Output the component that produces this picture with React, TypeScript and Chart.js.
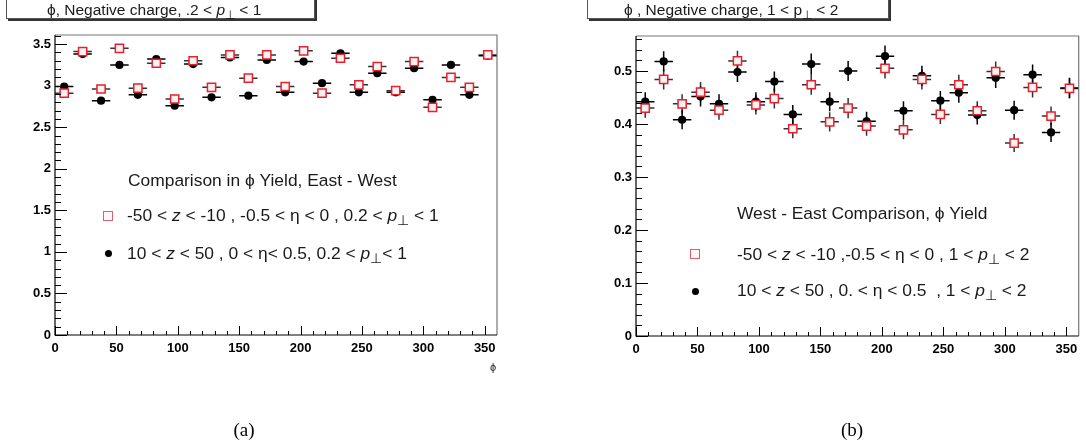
import React, { useEffect, useRef } from 'react';
import { Chart, registerables } from 'chart.js';
Chart.register(...registerables);

// phi bin centres (degrees) and half bin width
const phiBins = [7.5, 22.5, 37.5, 52.5, 67.5, 82.5, 97.5, 112.5, 127.5, 142.5, 157.5, 172.5,
  187.5, 202.5, 217.5, 232.5, 247.5, 262.5, 277.5, 292.5, 307.5, 322.5, 337.5, 352.5];
const phiHalf = [7.5, 7.5, 7.5, 7.5, 7.5, 7.5, 7.5, 7.5, 7.5, 7.5, 7.5, 7.5,
  7.5, 7.5, 7.5, 7.5, 7.5, 7.5, 7.5, 7.5, 7.5, 7.5, 7.5, 7.5];

// Panel (a): .2 < pT < 1
const eastA = [2.91, 3.41, 2.96, 3.45, 2.97, 3.27, 2.84, 3.30, 2.98, 3.37, 3.09, 3.37,
  2.99, 3.42, 2.91, 3.33, 3.01, 3.23, 2.94, 3.29, 2.74, 3.10, 2.98, 3.37];
const westA = [2.99, 3.38, 2.82, 3.25, 2.89, 3.32, 2.76, 3.26, 2.86, 3.34, 2.88, 3.31,
  2.92, 3.29, 3.03, 3.39, 2.92, 3.15, 2.92, 3.21, 2.83, 3.25, 2.89, 3.36];
const errEastA = [0.02, 0.02, 0.02, 0.02, 0.02, 0.02, 0.02, 0.02, 0.02, 0.02, 0.02, 0.02,
  0.02, 0.02, 0.02, 0.02, 0.02, 0.02, 0.02, 0.02, 0.02, 0.02, 0.02, 0.02];
const errWestA = [0.02, 0.02, 0.02, 0.02, 0.02, 0.02, 0.02, 0.02, 0.02, 0.02, 0.02, 0.02,
  0.02, 0.02, 0.02, 0.02, 0.02, 0.02, 0.02, 0.02, 0.02, 0.02, 0.02, 0.02];

// Panel (b): 1 < pT < 2
const eastB = [0.430, 0.484, 0.438, 0.460, 0.426, 0.519, 0.436, 0.448, 0.391, 0.474, 0.404, 0.430,
  0.396, 0.505, 0.389, 0.484, 0.418, 0.474, 0.425, 0.499, 0.364, 0.469, 0.415, 0.467];
const westB = [0.442, 0.518, 0.408, 0.452, 0.438, 0.498, 0.442, 0.480, 0.418, 0.513, 0.442, 0.500,
  0.405, 0.528, 0.425, 0.491, 0.444, 0.459, 0.417, 0.487, 0.426, 0.493, 0.384, 0.468];
const errEastB = [0.018, 0.019, 0.018, 0.019, 0.018, 0.019, 0.018, 0.019, 0.018, 0.019, 0.018, 0.019,
  0.018, 0.019, 0.018, 0.019, 0.018, 0.019, 0.018, 0.019, 0.017, 0.019, 0.018, 0.019];
const errWestB = [0.018, 0.019, 0.018, 0.019, 0.018, 0.019, 0.018, 0.019, 0.018, 0.020, 0.018, 0.019,
  0.018, 0.020, 0.018, 0.019, 0.018, 0.019, 0.018, 0.019, 0.018, 0.019, 0.018, 0.019];

// axis tick labels
const xTickLabels = [0, 50, 100, 150, 200, 250, 300, 350];
const yTickLabelsA = [0, 0.5, 1, 1.5, 2, 2.5, 3, 3.5];
const yTickLabelsB = [0, 0.1, 0.2, 0.3, 0.4, 0.5];

const FONT = '"Liberation Sans", Arial, Helvetica, sans-serif';

const rootStyle = {
  id: 'rootStyle',
  beforeDatasetsDraw(chart: any) {
    const { ctx } = chart;
    const x = chart.scales.x, y = chart.scales.y;
    ctx.save();
    chart.data.datasets.forEach((ds: any) => {
      ctx.strokeStyle = ds.errColor;
      ctx.lineWidth = 1.5;
      ds.data.forEach((p: any, j: number) => {
        const px = x.getPixelForValue(p.x), py = y.getPixelForValue(p.y);
        const x0 = x.getPixelForValue(p.x - ds.xErr[j]);
        const x1 = x.getPixelForValue(p.x + ds.xErr[j]);
        const y0 = y.getPixelForValue(p.y - ds.yErr[j]);
        const y1 = y.getPixelForValue(p.y + ds.yErr[j]);
        ctx.beginPath();
        ctx.moveTo(x0, py); ctx.lineTo(x1, py);
        ctx.moveTo(px, y0); ctx.lineTo(px, y1);
        ctx.stroke();
      });
    });
    ctx.restore();
  },
  afterDraw(chart: any, _args: any, opts: any) {
    const { ctx, chartArea: a } = chart;
    const x = chart.scales.x, y = chart.scales.y;
    ctx.save();
    ctx.strokeStyle = '#777';
    ctx.lineWidth = 1.2;
    ctx.beginPath();
    ctx.moveTo(a.left, a.top); ctx.lineTo(a.right, a.top); ctx.lineTo(a.right, a.bottom);
    ctx.stroke();
    ctx.strokeStyle = '#000';
    ctx.lineWidth = 1.2;
    ctx.beginPath();
    ctx.moveTo(a.left, a.top); ctx.lineTo(a.left, a.bottom); ctx.lineTo(a.right, a.bottom);
    ctx.stroke();
    ctx.lineWidth = 1;
    ctx.beginPath();
    const nyMinor = Math.round(opts.yMax / opts.yMinor);
    const ratioY = Math.round(opts.yMajor / opts.yMinor);
    for (let i = 0; i <= nyMinor; i++) {
      const v = i * opts.yMinor;
      if (v > opts.yMax) break;
      const py = Math.round(y.getPixelForValue(v)) + 0.5;
      const len = i % ratioY === 0 ? 12 : 6;
      ctx.moveTo(a.left, py); ctx.lineTo(a.left + len, py);
    }
    const nxMinor = Math.round(360 / opts.xMinor);
    const ratioX = Math.round(opts.xMajor / opts.xMinor);
    for (let i = 0; i <= nxMinor; i++) {
      const v = i * opts.xMinor;
      if (v > 359) break;
      const px = Math.round(x.getPixelForValue(v)) + 0.5;
      const len = i % ratioX === 0 ? 9 : 4;
      ctx.moveTo(px, a.bottom); ctx.lineTo(px, a.bottom - len);
    }
    ctx.stroke();
    ctx.restore();
  },
};

function makeConfig(east: number[], west: number[], errE: number[], errW: number[],
  yMax: number, yLabels: number[], yMajor: number, yMinor: number,
  yAxisWidth: number, pad: any) {
  return {
    type: 'scatter',
    data: {
      datasets: [
        {
          label: 'East',
          data: phiBins.map((p, i) => ({ x: p, y: east[i] })),
          xErr: phiHalf, yErr: errE, errColor: '#333',
          pointStyle: 'rect', pointRadius: 5.8, borderWidth: 1.5,
          borderColor: '#e3222e', backgroundColor: '#fff0f2',
        },
        {
          label: 'West',
          data: phiBins.map((p, i) => ({ x: p, y: west[i] })),
          xErr: phiHalf, yErr: errW, errColor: '#000',
          pointStyle: 'circle', pointRadius: 4.1, borderWidth: 0,
          borderColor: '#000', backgroundColor: '#000',
        },
      ],
    },
    options: {
      responsive: false,
      animation: false,
      devicePixelRatio: 1,
      layout: { padding: pad },
      plugins: {
        legend: { display: false },
        tooltip: { enabled: false },
        rootStyle: { yMax, yMajor, yMinor, xMajor: 50, xMinor: 10 },
      },
      scales: {
        x: {
          type: 'linear', min: 0, max: 360,
          grid: { display: false, drawTicks: false },
          border: { display: false },
          afterBuildTicks: (s: any) => { s.ticks = xTickLabels.map((v) => ({ value: v })); },
          afterFit: (s: any) => { s.height = 30; },
          ticks: {
            padding: 6, maxRotation: 0, autoSkip: false, color: '#000',
            font: { family: FONT, size: 13, weight: 'bold' },
            callback: (v: any) => String(v),
          },
        },
        y: {
          type: 'linear', min: 0, max: yMax,
          grid: { display: false, drawTicks: false },
          border: { display: false },
          afterBuildTicks: (s: any) => { s.ticks = yLabels.map((v) => ({ value: v })); },
          afterFit: (s: any) => { s.width = yAxisWidth; },
          ticks: {
            padding: 4, color: '#000', autoSkip: false,
            font: { family: FONT, size: 13, weight: 'bold' },
            callback: (v: any) => String(Number(Number(v).toFixed(2))),
          },
        },
      },
    },
    plugins: [rootStyle],
  } as any;
}

function Panel(props: { cfg: any; left: number }) {
  const ref = useRef<HTMLCanvasElement | null>(null);
  useEffect(() => {
    const c = new Chart(ref.current as HTMLCanvasElement, props.cfg);
    return () => c.destroy();
  }, []);
  return (
    <canvas ref={ref} width={543} height={448}
      style={{ position: 'absolute', left: props.left, top: 0, width: 543, height: 448 }} />
  );
}

const txt = (extra: any): any => ({
  position: 'absolute', fontFamily: FONT, color: '#1a1a1a', whiteSpace: 'pre',
  lineHeight: '22px', height: 22, ...extra,
});

const Pt = () => (
  <span><i>p</i><span style={{ fontSize: '0.8em', position: 'relative', top: '0.3em' }}>⊥</span></span>
);
const PtUp = () => (
  <span>p<span style={{ fontSize: '0.8em', position: 'relative', top: '0.3em' }}>⊥</span></span>
);

const RedSq = (p: { left: number; top: number }) => (
  <div style={{ position: 'absolute', left: p.left - 5, top: p.top - 5, width: 8, height: 8,
    border: '1px solid #d9606e', background: '#fff4f6' }} />
);
const BlackDot = (p: { left: number; top: number }) => (
  <div style={{ position: 'absolute', left: p.left - 3.5, top: p.top - 3.5, width: 7, height: 7,
    borderRadius: '50%', background: '#000' }} />
);

const LS = 17.4;

export default function App() {
  const cfgA = makeConfig(eastA, westA, errEastA, errWestA, 3.61, yTickLabelsA, 0.5, 0.1, 55,
    { left: 0, top: 35, right: 46, bottom: 83 });
  const cfgB = makeConfig(eastB, westB, errEastB, errWestB, 0.566, yTickLabelsB, 0.1, 0.02, 93,
    { left: 0, top: 36, right: 7, bottom: 82 });
  return (
    <div style={{ position: 'fixed', left: 0, top: 0, width: 1086, height: 448, background: '#fff', overflow: 'hidden' }}>
      <Panel cfg={cfgA} left={0} />
      <Panel cfg={cfgB} left={543} />

      <div style={{ position: 'absolute', left: 6, top: -2, width: 309, height: 21, border: '1px solid #555',
        boxShadow: '2px 2px 0 #333', background: '#fff', boxSizing: 'border-box' }}>
        <div style={txt({ left: 40, top: 0, fontSize: 15.5 })}>ϕ, Negative charge, .2 &lt; <Pt /> &lt; 1</div>
      </div>
      <div style={{ position: 'absolute', left: 587, top: -2, width: 302, height: 21, border: '1px solid #555',
        boxShadow: '2px 2px 0 #333', background: '#fff', boxSizing: 'border-box' }}>
        <div style={txt({ left: 36, top: 0, fontSize: 15.5 })}>ϕ , Negative charge, 1 &lt; <PtUp /> &lt; 2</div>
      </div>

      <div style={txt({ left: 128, top: 169, fontSize: LS })}>Comparison in ϕ Yield, East - West</div>
      <RedSq left={108} top={216} />
      <div style={txt({ left: 127, top: 204, fontSize: LS })}>-50 &lt; <i>z</i> &lt; -10 , -0.5 &lt; η &lt; 0 , 0.2 &lt; <Pt /> &lt; 1</div>
      <BlackDot left={108} top={253} />
      <div style={txt({ left: 127, top: 242, fontSize: LS })}>10 &lt; <i>z</i> &lt; 50 , 0 &lt; η&lt; 0.5, 0.2 &lt; <Pt />&lt; 1</div>
      <div style={txt({ left: 490, top: 356, fontSize: 11 })}>ϕ</div>

      <div style={txt({ left: 737, top: 202, fontSize: LS })}>West - East Comparison, ϕ Yield</div>
      <RedSq left={695} top={254} />
      <div style={txt({ left: 737, top: 243, fontSize: LS })}>-50 &lt; <i>z</i> &lt; -10 ,-0.5 &lt; η &lt; 0 , 1 &lt; <Pt /> &lt; 2</div>
      <BlackDot left={695} top={291} />
      <div style={txt({ left: 737, top: 279, fontSize: LS })}>10 &lt; <i>z</i> &lt; 50 , 0. &lt; η &lt; 0.5  , 1 &lt; <Pt /> &lt; 2</div>

      <div style={{ position: 'absolute', left: 224, top: 418, width: 40, textAlign: 'center',
        fontFamily: '"Liberation Serif", "DejaVu Serif", serif', fontSize: 19, lineHeight: '24px' }}>(a)</div>
      <div style={{ position: 'absolute', left: 832, top: 418, width: 40, textAlign: 'center',
        fontFamily: '"Liberation Serif", "DejaVu Serif", serif', fontSize: 19, lineHeight: '24px' }}>(b)</div>
    </div>
  );
}
